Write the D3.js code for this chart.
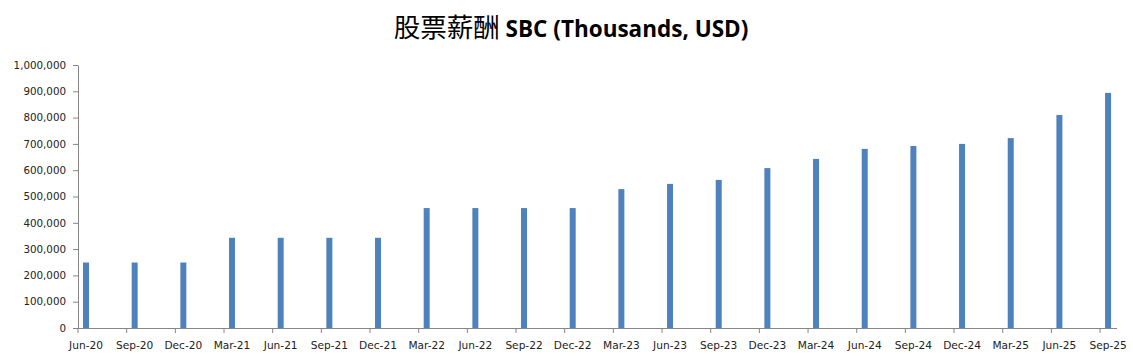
<!DOCTYPE html>
<html><head><meta charset="utf-8">
<script src="https://cdn.jsdelivr.net/npm/d3@7/dist/d3.min.js"></script>
<style>body{margin:0;background:#fff}svg{display:block}</style>
</head><body>
<svg id="c" width="1133" height="363"></svg>
<script>
const categories = ["Jun-20","Sep-20","Dec-20","Mar-21","Jun-21","Sep-21","Dec-21","Mar-22","Jun-22","Sep-22","Dec-22","Mar-23","Jun-23","Sep-23","Dec-23","Mar-24","Jun-24","Sep-24","Dec-24","Mar-25","Jun-25","Sep-25"];
const sbcValues = [249000,249000,249000,343000,343000,343000,343000,456000,456000,456000,456000,528000,548000,563000,608000,643000,681000,692000,700000,722000,810000,894000];
const yTicks = [0,100000,200000,300000,400000,500000,600000,700000,800000,900000,1000000];

const svg = d3.select("#c");
const mLeft = 78, mTop = 65, mBottom = 328, step = 48.67;
const x = d3.scaleBand().domain(categories).range([mLeft, mLeft + step*categories.length]).padding(0);
const y = d3.scaleLinear().domain([0,1000000]).range([mBottom, mTop]);
const axisColor = "#868686";
const fontFam = "'DejaVu Sans', Verdana, sans-serif";

// Title
const title = svg.append("text").attr("x", 571).attr("y", 37).attr("text-anchor","middle").attr("fill","#000");
title.append("tspan").text("股票薪酬 ").attr("font-family","'Noto Sans CJK SC'").attr("font-size",26.5).attr("font-weight",400);
title.append("tspan").text("SBC (Thousands, USD)").attr("font-family","'Open Sans', sans-serif").attr("font-size",22.5).attr("font-weight",700);

// Bars
svg.append("g").selectAll("rect").data(categories).join("rect")
  .attr("x", d => x(d) + 5)
  .attr("width", 6)
  .attr("y", (d,i) => y(sbcValues[i]))
  .attr("height", (d,i) => y(0) - y(sbcValues[i]))
  .attr("fill", "#4F81BD");

// Y axis
const yAxis = svg.append("g").attr("transform", `translate(${mLeft},0)`)
  .call(d3.axisLeft(y).tickValues(yTicks).tickFormat(d3.format(",")).tickSize(5).tickPadding(7).tickSizeOuter(0));
yAxis.selectAll("path,line").attr("stroke", axisColor);
yAxis.selectAll("text").attr("font-family", fontFam).attr("font-size", 10.3).attr("fill","#222");

// X axis
const xAxis = svg.append("g").attr("transform", `translate(0,${mBottom})`)
  .call(d3.axisBottom(x).tickSize(5).tickSizeOuter(0));
xAxis.select(".domain").remove();
xAxis.selectAll(".tick").attr("transform", d => `translate(${x(d)},0)`);
xAxis.selectAll(".tick line").attr("stroke", axisColor);
xAxis.selectAll(".tick text").attr("x", 8).attr("y", 13).attr("font-family", fontFam).attr("font-size", 10.6).attr("fill","#222");
svg.append("line").attr("x1", mLeft).attr("x2", 1117).attr("y1", mBottom+0.5).attr("y2", mBottom+0.5).attr("stroke", axisColor);
</script>
</body></html>
